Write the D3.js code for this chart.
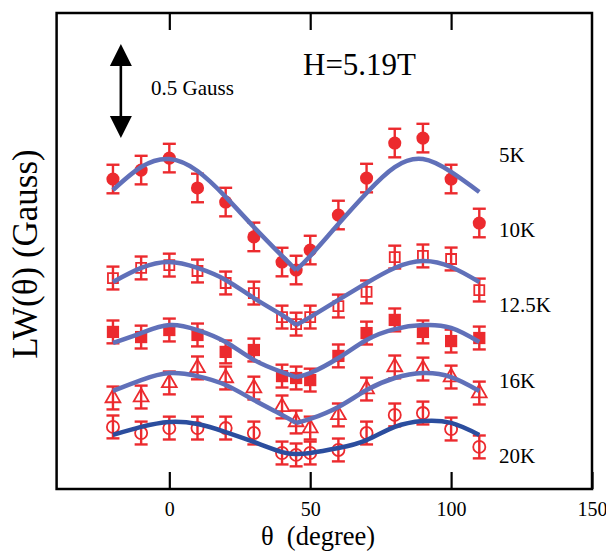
<!DOCTYPE html>
<html>
<head>
<meta charset="utf-8">
<script src="https://cdn.jsdelivr.net/npm/d3@7"></script>
<style>
  html, body { margin: 0; padding: 0; background: #fff; }
  svg { display: block; }
  text { font-family: "Liberation Serif", "Times New Roman", serif; fill: #000; }
</style>
</head>
<body>
<svg id="chart" width="606" height="552"></svg>
<script>
// ---------- data ----------
const angles = [-20, -10, 0, 10, 20, 30, 40, 45, 50, 60, 70, 80, 90, 100, 110];
const labels = ["5K", "10K", "12.5K", "16K", "20K"];

// measured line widths (Gauss, offset for display)
const lw5K   = [1.628, 1.675, 1.738, 1.581, 1.507, 1.324, 1.192, 1.150, 1.255, 1.439, 1.633, 1.817, 1.843, 1.628, 1.397];
const lw12K  = [1.108, 1.161, 1.176, 1.145, 1.082, 1.029, 0.903, 0.866, 0.903, 0.961, 1.035, 1.218, 1.224, 1.208, 1.045];
const lw10K  = [0.825, 0.798, 0.835, 0.809, 0.720, 0.730, 0.593, 0.583, 0.572, 0.699, 0.819, 0.888, 0.825, 0.777, 0.793];
const lw16K  = [0.478, 0.483, 0.557, 0.636, 0.583, 0.530, 0.431, 0.352, 0.320, 0.389, 0.525, 0.641, 0.630, 0.588, 0.504];
const lw20K  = [0.326, 0.294, 0.320, 0.320, 0.320, 0.294, 0.189, 0.179, 0.189, 0.205, 0.294, 0.389, 0.399, 0.315, 0.221];

// error bar half-widths (Gauss)
const errors = [0.075, 0.06, 0.06, 0.06, 0.06];

// fitted curves
const fit5K  = [1.570, 1.691, 1.733, 1.670, 1.534, 1.376, 1.224, 1.150, 1.224, 1.392, 1.555, 1.691, 1.733, 1.665, 1.560];
const fit12K = [1.087, 1.161, 1.192, 1.161, 1.098, 1.003, 0.914, 0.861, 0.903, 0.993, 1.082, 1.161, 1.197, 1.166, 1.087];
const fit10K = [0.767, 0.819, 0.861, 0.835, 0.772, 0.678, 0.614, 0.588, 0.609, 0.688, 0.783, 0.840, 0.861, 0.846, 0.772];
const fit16K = [0.515, 0.572, 0.609, 0.593, 0.546, 0.467, 0.389, 0.347, 0.368, 0.431, 0.520, 0.583, 0.609, 0.588, 0.515];
const fit20K = [0.284, 0.326, 0.352, 0.341, 0.299, 0.247, 0.194, 0.184, 0.189, 0.215, 0.257, 0.326, 0.357, 0.347, 0.284];

const xTicks = [0, 50, 100, 150];
const scaleBar = { theta: -17.2, from: 1.843, to: 2.337, label: "0.5 Gauss" };
const title = "H=5.19T";

// ---------- chart ----------
const svg = d3.select("#chart");
const m = { left: 56.6, right: 592, top: 13, bottom: 489 };

const x = d3.scaleLinear().domain([-40, 150]).range([m.left, m.right]);
const y = d3.scaleLinear().domain([0, 2.5]).range([m.bottom, m.top]);

const red = "#ec2a2e";
const blue = "#6070b9";
const darkBlue = "#2b4d9e";

const data = [lw5K, lw12K, lw10K, lw16K, lw20K];
const fits = [fit5K, fit12K, fit10K, fit16K, fit20K];
const symbols = [
  { type: d3.symbolCircle, size: 135, fill: red },
  { type: d3.symbolSquare, size: 100, fill: "none" },
  { type: d3.symbolSquare, size: 150, fill: red },
  { type: d3.symbolTriangle, size: 95, fill: "none" },
  { type: d3.symbolCircle, size: 115, fill: "none" }
];

// frame
svg.append("rect")
  .attr("x", m.left).attr("y", m.top)
  .attr("width", m.right - m.left).attr("height", m.bottom - m.top)
  .attr("fill", "none").attr("stroke", "#000").attr("stroke-width", 2.5);

// bottom axis
const gx = svg.append("g")
  .attr("transform", `translate(0,${m.bottom})`)
  .call(d3.axisBottom(x).tickValues(xTicks).tickSize(-17).tickPadding(13).tickFormat(d3.format("d")));
gx.select(".domain").remove();
gx.selectAll(".tick line").attr("stroke", "#000").attr("stroke-width", 2.2);
gx.selectAll(".tick text").attr("font-size", 20).attr("font-family", "Liberation Serif");

// top axis
const gt = svg.append("g")
  .attr("transform", `translate(0,${m.top})`)
  .call(d3.axisTop(x).tickValues(xTicks.filter(d => d < 150)).tickSize(-17).tickFormat(""));
gt.select(".domain").remove();
gt.selectAll(".tick line").attr("stroke", "#000").attr("stroke-width", 2.2);

// axis titles
svg.append("text")
  .attr("x", 318).attr("y", 545)
  .attr("text-anchor", "middle").attr("font-size", 26.5)
  .text("θ\u00A0\u00A0(degree)");

svg.append("text")
  .attr("transform", "translate(37,254) rotate(-90)")
  .attr("text-anchor", "middle").attr("font-size", 35)
  .text("LW(θ) (Gauss)");

// title
svg.append("text").attr("x", 303).attr("y", 75).attr("font-size", 31).text(title);

// scale bar arrow
const ax = x(scaleBar.theta);
const yTop = y(scaleBar.to), yBot = y(scaleBar.from);
const headH = 22, headW = 11;
svg.append("line")
  .attr("x1", ax).attr("x2", ax).attr("y1", yTop + headH - 2).attr("y2", yBot - headH + 2)
  .attr("stroke", "#000").attr("stroke-width", 2.6);
svg.append("path")
  .attr("d", `M${ax},${yTop} L${ax - headW},${yTop + headH} L${ax + headW},${yTop + headH} Z`)
  .attr("fill", "#000");
svg.append("path")
  .attr("d", `M${ax},${yBot} L${ax - headW},${yBot - headH} L${ax + headW},${yBot - headH} Z`)
  .attr("fill", "#000");
svg.append("text").attr("x", 151).attr("y", 95).attr("font-size", 21).text(scaleBar.label);

// error bars and markers
data.forEach((vals, si) => {
  const g = svg.append("g");
  const e = errors[si];
  const cap = 6.5;
  vals.forEach((v, i) => {
    const px = x(angles[i]);
    const y1 = y(v + e), y2 = y(v - e);
    g.append("line").attr("x1", px).attr("x2", px).attr("y1", y1).attr("y2", y2)
      .attr("stroke", red).attr("stroke-width", 2.4);
    g.append("line").attr("x1", px - cap).attr("x2", px + cap).attr("y1", y1).attr("y2", y1)
      .attr("stroke", red).attr("stroke-width", 2.4);
    g.append("line").attr("x1", px - cap).attr("x2", px + cap).attr("y1", y2).attr("y2", y2)
      .attr("stroke", red).attr("stroke-width", 2.4);
  });
  const s = symbols[si];
  g.selectAll("path.mk").data(vals).join("path")
    .attr("class", "mk")
    .attr("transform", (v, i) => `translate(${x(angles[i])},${y(v)})`)
    .attr("d", d3.symbol().type(s.type).size(s.size))
    .attr("fill", s.fill)
    .attr("stroke", red)
    .attr("stroke-width", s.fill === "none" ? 1.8 : 0);
});

// fitted curves (cusp at 45 deg for the upper four)
const line = d3.line().x(d => x(d[0])).y(d => y(d[1])).curve(d3.curveNatural);
fits.forEach((f, si) => {
  const pts = angles.map((a, i) => [a, f[i]]);
  const pieces = si < 4
    ? [pts.filter(p => p[0] <= 45), pts.filter(p => p[0] >= 45)]
    : [pts];
  pieces.forEach(pc => {
    svg.append("path")
      .attr("d", line(pc))
      .attr("fill", "none")
      .attr("stroke", si < 4 ? blue : darkBlue)
      .attr("stroke-width", 4.5)
      .attr("stroke-linecap", "butt")
      .attr("stroke-linejoin", "round");
  });
});

// series labels
labels.forEach((t, i) => {
  svg.append("text")
    .attr("x", 499).attr("y", 162 + i * 75.2)
    .attr("font-size", 21)
    .text(t);
});
</script>
</body>
</html>
